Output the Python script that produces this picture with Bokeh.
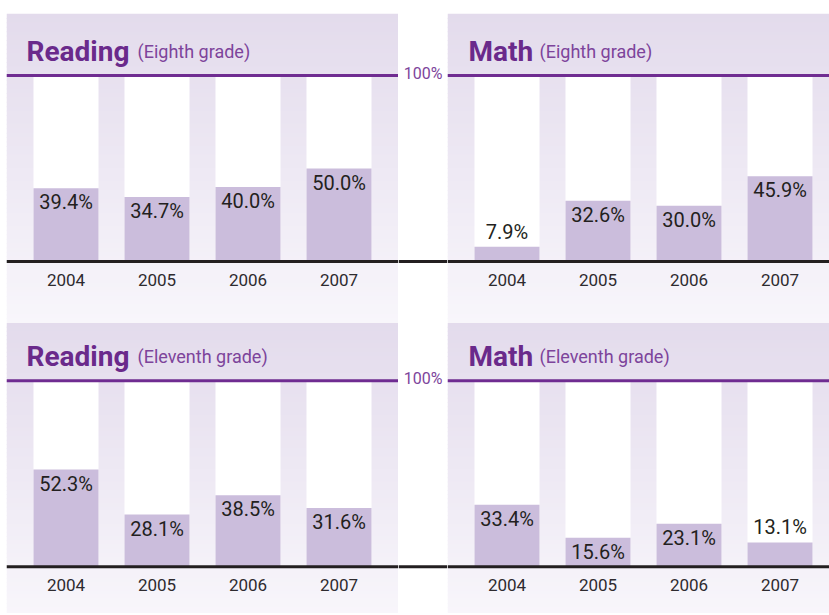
from bokeh.plotting import figure
from bokeh.models import ColumnDataSource, Span, Range1d
from bokeh.layouts import row, column
from bokeh.embed import file_html
from bokeh.resources import INLINE
from bokeh.core.properties import value

# ---------------- data ----------------
years = ["2004", "2005", "2006", "2007"]
reading_eighth = [39.4, 34.7, 40.0, 50.0]
math_eighth = [7.9, 32.6, 30.0, 45.9]
reading_eleventh = [52.3, 28.1, 38.5, 31.6]
math_eleventh = [33.4, 15.6, 23.1, 13.1]

subjects = ["Reading", "Math"]
grades = ["(Eighth grade)", "(Eleventh grade)"]
top_label = "100%"

# ---------------- style / layout ----------------
PX = 1.86          # pixels per percentage point
SLOT = 91.0        # px between bar centres
BAR = 65.0         # bar width px
MARGIN = 27.0      # panel edge to first bar px
GAP_W = 49
LEFT_W, RIGHT_W = 392, 382
LEFT_BORDER = 6
TOP_H, BOT_H = 309, 291
TOP_BORDER = 13
TOP_BASE, BOT_BASE = 248.0, 244.3   # frame top -> baseline px
TOP_FULL, BOT_FULL = 309, 293       # full panel height for gradient

PURPLE = "#6f2c91"
TITLE_C = "#6a2a8b"
SUB_C = "#7d449b"
BAR_C = "#cbbddc"
INK = "#231f20"
YEAR_C = "#2e2b2f"
GRAD_TOP = (227, 219, 236)
GRAD_BOT = (248, 246, 251)
FONT = "Roboto"


def ranges(width, height, base):
    x0 = -(MARGIN + BAR / 2) / SLOT
    x1 = x0 + width / SLOT
    y1 = base / PX
    y0 = -(height - base) / PX
    return x0, x1, y0, y1


def panel(values, subject, grade, width, border_left, height, base, full_h, border_top,
          title_dx, sub_dx, title_dy):
    x0, x1, y0, y1 = ranges(width, height, base)
    p = figure(width=width + border_left, height=height + border_top,
               x_range=Range1d(x0, x1), y_range=Range1d(y0, y1),
               output_backend="svg", toolbar_location=None,
               x_axis_location=None, y_axis_location=None,
               min_border=0, min_border_top=border_top, min_border_left=border_left,
               border_fill_color="white", background_fill_color="white",
               outline_line_color=None)
    p.grid.visible = False

    # vertical gradient background
    n = 70
    tops, bots, cols = [], [], []
    for k in range(n):
        t_px = k * full_h / n
        b_px = (k + 1) * full_h / n + 1.0
        f = (k + 0.5) / n
        c = tuple(int(round(GRAD_TOP[i] + (GRAD_BOT[i] - GRAD_TOP[i]) * f)) for i in range(3))
        tops.append(y1 - t_px / PX)
        bots.append(y1 - b_px / PX)
        cols.append("#%02x%02x%02x" % c)
    p.quad(left=x0, right=x1, top=tops, bottom=bots, fill_color=cols, line_color=None)

    xs = list(range(len(years)))
    bw = BAR / SLOT
    p.vbar(x=xs, width=bw, bottom=0, top=100, fill_color="white", line_color=None)
    p.vbar(x=xs, width=bw, bottom=0, top=values, fill_color=BAR_C, line_color=None)

    labels = ["%.1f%%" % v for v in values]
    yoff = [14 if v >= 15 else -15 for v in values]
    src = ColumnDataSource(dict(x=xs, y=values, t=labels, o=yoff))
    p.text(x="x", y="y", text="t", y_offset="o", source=src,
           text_align="center", text_baseline="alphabetic",
           text_font=value(FONT), text_font_size="20px", text_color=INK)

    p.text(x=xs, y=[0] * len(xs), text=years, y_offset=18,
           text_align="center", text_baseline="alphabetic",
           text_font=value(FONT), text_font_size="17px", text_color=YEAR_C)

    ty = 100 + title_dy / PX
    p.text(x=[x0 + title_dx / SLOT], y=[ty], text=[subject],
           text_align="left", text_baseline="alphabetic",
           text_font=value(FONT), text_font_style="bold",
           text_font_size="28px", text_color=TITLE_C)
    p.text(x=[x0 + sub_dx / SLOT], y=[ty], text=[grade],
           text_align="left", text_baseline="alphabetic",
           text_font=value(FONT), text_font_size="18px", text_color=SUB_C)

    p.add_layout(Span(location=100, dimension="width", line_color=PURPLE, line_width=3))
    p.add_layout(Span(location=0, dimension="width", line_color=INK, line_width=3))
    return p


def gap(height, base, border_top):
    y0 = -(height - base) / PX
    y1 = base / PX
    g = figure(width=GAP_W, height=height + border_top,
               x_range=Range1d(0, GAP_W), y_range=Range1d(y0, y1),
               output_backend="svg", toolbar_location=None,
               x_axis_location=None, y_axis_location=None,
               min_border=0, min_border_top=border_top,
               border_fill_color="white", background_fill_color="white",
               outline_line_color=None)
    g.grid.visible = False
    g.text(x=[GAP_W / 2], y=[100], text=[top_label], text_align="center",
           text_baseline="middle", y_offset=-2, text_font=value(FONT),
           text_font_size="16px", text_color=SUB_C)
    g.add_layout(Span(location=0, dimension="width", line_color=INK, line_width=3))
    return g


p1 = panel(reading_eighth, subjects[0], grades[0], LEFT_W, LEFT_BORDER, TOP_H, TOP_BASE,
           TOP_FULL, TOP_BORDER, 20, 131, 24.5)
g1 = gap(TOP_H, TOP_BASE, TOP_BORDER)
p2 = panel(math_eighth, subjects[1], grades[0], RIGHT_W, 0, TOP_H, TOP_BASE,
           TOP_FULL, TOP_BORDER, 21, 92, 24.5)
p3 = panel(reading_eleventh, subjects[0], grades[1], LEFT_W, LEFT_BORDER, BOT_H, BOT_BASE,
           BOT_FULL, 0, 20, 131, 24)
g2 = gap(BOT_H, BOT_BASE, 0)
p4 = panel(math_eleventh, subjects[1], grades[1], RIGHT_W, 0, BOT_H, BOT_BASE,
           BOT_FULL, 0, 21, 92, 24)

layout = column(row(p1, g1, p2, spacing=0), row(p3, g2, p4, spacing=0), spacing=0)

open("out.html", "w").write(file_html(layout, INLINE))
